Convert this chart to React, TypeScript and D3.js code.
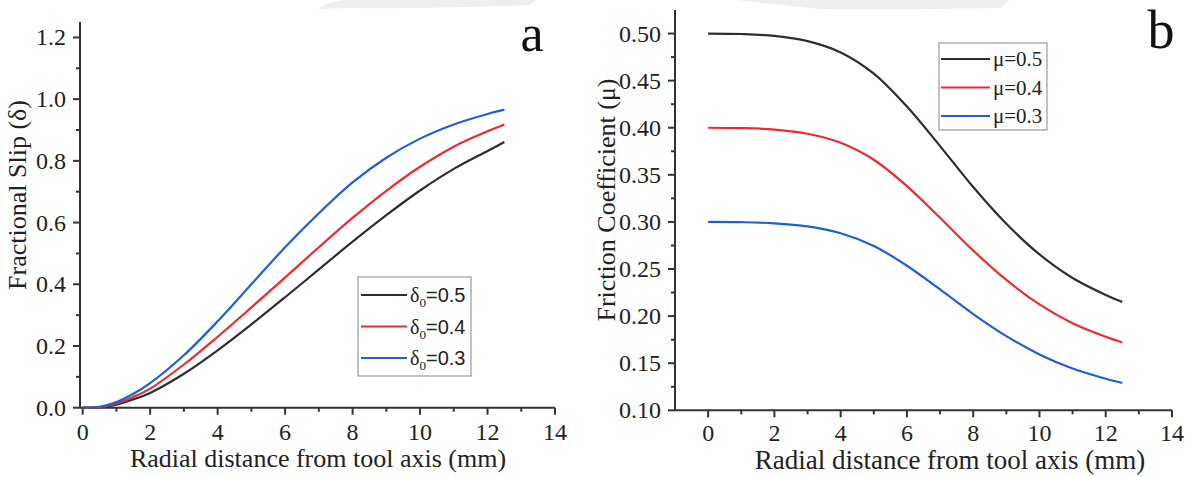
import React from 'react';
import * as d3 from 'd3';

// ---------- data ----------
const radiusA = [0, 0.5, 1, 1.5, 2, 3, 4, 5, 6, 7, 8, 9, 10, 11, 12, 12.5];
const slipD05 = [0, 0.001, 0.01, 0.027, 0.048, 0.11, 0.186, 0.27, 0.358, 0.448, 0.538, 0.624, 0.704, 0.774, 0.832, 0.861];
const slipD04 = [0, 0.002, 0.014, 0.035, 0.062, 0.14, 0.23, 0.325, 0.422, 0.52, 0.615, 0.703, 0.781, 0.846, 0.896, 0.918];
const slipD03 = [0, 0.003, 0.018, 0.045, 0.08, 0.17, 0.28, 0.4, 0.52, 0.63, 0.73, 0.81, 0.872, 0.918, 0.952, 0.966];

const radiusB = [0, 1, 2, 3, 4, 5, 6, 7, 8, 9, 10, 11, 12, 12.5];
const muM05 = [0.5, 0.4995, 0.4975, 0.492, 0.48, 0.4575, 0.4225, 0.3805, 0.337, 0.298, 0.2655, 0.2405, 0.2225, 0.215];
const muM04 = [0.4, 0.3996, 0.398, 0.3936, 0.384, 0.366, 0.338, 0.3044, 0.2696, 0.2384, 0.2124, 0.1924, 0.178, 0.172];
const muM03 = [0.3, 0.2997, 0.2985, 0.2952, 0.288, 0.2745, 0.2535, 0.2283, 0.2022, 0.1788, 0.1593, 0.1443, 0.1335, 0.129];

const xTickValues = [0, 2, 4, 6, 8, 10, 12, 14];
const xMinorValues = [1, 3, 5, 7, 9, 11, 13];
const yTicksA = [0, 0.2, 0.4, 0.6, 0.8, 1.0, 1.2];
const yMinorA = [0.1, 0.3, 0.5, 0.7, 0.9, 1.1];
const yTicksB = [0.1, 0.15, 0.2, 0.25, 0.3, 0.35, 0.4, 0.45, 0.5];
const yMinorB = [0.125, 0.175, 0.225, 0.275, 0.325, 0.375, 0.425, 0.475];

const legendValuesA = ['0.5', '0.4', '0.3'];
const legendValuesB = ['0.5', '0.4', '0.3'];
const seriesColors = ['#2e2e2e', '#ec2a2f', '#1f5fd8'];

const SERIF = "'Liberation Serif', 'Times New Roman', serif";
const SANS = "'Liberation Sans', Arial, sans-serif";
const AXIS = '#333';

type AxisProps = {
  x: d3.ScaleLinear<number, number>;
  y: d3.ScaleLinear<number, number>;
  yTicks: number[];
  yMinor: number[];
  yFmt: (v: number) => string;
  xLabelY: number;
};

function Axes({ x, y, yTicks, yMinor, yFmt, xLabelY }: AxisProps) {
  const [x0, x1] = x.range();
  const [y0, y1] = y.range();
  return (
    <g>
      <line x1={x0} x2={x1} y1={y0} y2={y0} stroke={AXIS} strokeWidth={2} />
      <line x1={x0} x2={x0} y1={y0} y2={y1} stroke={AXIS} strokeWidth={2} />
      {xTickValues.map((v) => (
        <g key={'xt' + v}>
          <line x1={x(v)} x2={x(v)} y1={y0} y2={y0 + 7} stroke={AXIS} strokeWidth={2} />
          <text x={x(v)} y={xLabelY} textAnchor="middle" fontFamily={SERIF} fontSize={24} fill="#222">
            {v}
          </text>
        </g>
      ))}
      {xMinorValues.map((v) => (
        <line key={'xm' + v} x1={x(v)} x2={x(v)} y1={y0} y2={y0 + 4} stroke={AXIS} strokeWidth={2} />
      ))}
      {yTicks.map((v) => (
        <g key={'yt' + v}>
          <line x1={x0} x2={x0 - 7} y1={y(v)} y2={y(v)} stroke={AXIS} strokeWidth={2} />
          <text x={x0 - 14} y={y(v) + 8} textAnchor="end" fontFamily={SERIF} fontSize={24} fill="#222">
            {yFmt(v)}
          </text>
        </g>
      ))}
      {yMinor.map((v) => (
        <line key={'ym' + v} x1={x0} x2={x0 - 4} y1={y(v)} y2={y(v)} stroke={AXIS} strokeWidth={2} />
      ))}
    </g>
  );
}

export default function App() {
  // panel a
  const xa = d3.scaleLinear().domain([-0.08, 14]).range([80, 555]);
  const ya = d3.scaleLinear().domain([0, 1.25]).range([407.7, 22]);
  // panel b
  const xb = d3.scaleLinear().domain([-1, 14]).range([675, 1172]);
  const yb = d3.scaleLinear().domain([0.1, 0.525]).range([410.3, 10]);

  const lineA = d3
    .line<[number, number]>()
    .x((d) => xa(d[0]))
    .y((d) => ya(d[1]))
    .curve(d3.curveCatmullRom.alpha(0.5));
  const lineB = d3
    .line<[number, number]>()
    .x((d) => xb(d[0]))
    .y((d) => yb(d[1]))
    .curve(d3.curveCatmullRom.alpha(0.5));

  const seriesA = [slipD05, slipD04, slipD03];
  const seriesB = [muM05, muM04, muM03];

  return (
    <div style={{ position: 'absolute', left: 0, top: 0 }}>
      <svg width={1193} height={477} style={{ display: 'block', background: '#fff' }}>
        {/* faint watermark at top */}
        <path d="M318,9 Q330,0 350,0 L536,0 L530,5 Q430,9 350,8 Z" fill="#eeeeee" />
        <path d="M737,0 L1010,0 L1000,8 Q900,10 820,9 Q780,5 737,0 Z" fill="#eeeeee" />

        {/* Panel a */}
        <Axes x={xa} y={ya} yTicks={yTicksA} yMinor={yMinorA} yFmt={(v) => v.toFixed(1)} xLabelY={440} />
        {seriesA.map((s, i) => (
          <path
            key={'a' + i}
            d={lineA(radiusA.map((r, j) => [r, s[j]] as [number, number])) || ''}
            fill="none"
            stroke={seriesColors[i]}
            strokeWidth={2.2}
          />
        ))}
        <text x={318} y={467} textAnchor="middle" fontFamily={SERIF} fontSize={26} fill="#222">
          Radial distance from tool axis (mm)
        </text>
        <text
          transform="translate(26,195) rotate(-90)"
          textAnchor="middle"
          fontFamily={SERIF}
          fontSize={26}
          fill="#222"
        >
          Fractional Slip (δ)
        </text>
        <text x={532} y={51} textAnchor="middle" fontFamily={SERIF} fontSize={52} fill="#111">
          a
        </text>
        {/* legend a */}
        <rect x={358} y={277} width={113} height={99} fill="#fff" stroke="#9a9a9a" strokeWidth={1.2} />
        {legendValuesA.map((v, i) => {
          const ly = 295 + i * 31.5;
          return (
            <g key={'la' + i}>
              <line x1={361} x2={407} y1={ly} y2={ly} stroke={seriesColors[i]} strokeWidth={2.2} />
              <text x={410} y={ly + 7} fontSize={20} fill="#222">
                <tspan fontFamily={SERIF}>δ</tspan>
                <tspan fontFamily={SERIF} fontSize={13} dy={5}>
                  0
                </tspan>
                <tspan fontFamily={SANS} dy={-5}>
                  ={v}
                </tspan>
              </text>
            </g>
          );
        })}

        {/* Panel b */}
        <Axes x={xb} y={yb} yTicks={yTicksB} yMinor={yMinorB} yFmt={(v) => v.toFixed(2)} xLabelY={441} />
        {seriesB.map((s, i) => (
          <path
            key={'b' + i}
            d={lineB(radiusB.map((r, j) => [r, s[j]] as [number, number])) || ''}
            fill="none"
            stroke={seriesColors[i]}
            strokeWidth={2.2}
          />
        ))}
        <text x={950} y={469} textAnchor="middle" fontFamily={SERIF} fontSize={27} fill="#222">
          Radial distance from tool axis (mm)
        </text>
        <text
          transform="translate(615,200) rotate(-90)"
          textAnchor="middle"
          fontFamily={SERIF}
          fontSize={26}
          fill="#222"
        >
          Friction Coefficient (μ)
        </text>
        <text x={1161} y={48} textAnchor="middle" fontFamily={SERIF} fontSize={54} fill="#111">
          b
        </text>
        {/* legend b */}
        <rect x={939} y={43} width={108} height={87} fill="#fff" stroke="#9a9a9a" strokeWidth={1.2} />
        {legendValuesB.map((v, i) => {
          const ly = 59 + i * 28.5;
          return (
            <g key={'lb' + i}>
              <line x1={941} x2={990} y1={ly} y2={ly} stroke={seriesColors[i]} strokeWidth={2.2} />
              <text x={993} y={ly + 7} fontFamily={SERIF} fontSize={21} fill="#222">
                μ={v}
              </text>
            </g>
          );
        })}
      </svg>
    </div>
  );
}
